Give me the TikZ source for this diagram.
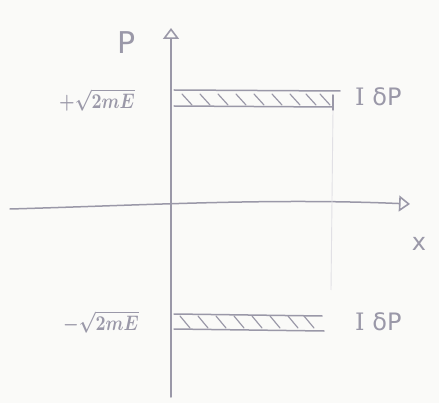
\documentclass[tikz,border=0pt]{standalone}
\usepackage{fontspec}
\usepackage{graphicx}
\setmainfont{DejaVu Sans}
\newfontfamily\serifI{DejaVu Serif}
\usetikzlibrary{arrows.meta}
\definecolor{pencil}{HTML}{9A98A8}
\definecolor{paper}{HTML}{FAFAF8}
\begin{document}
\begin{tikzpicture}[x=1pt,y=-1pt,
  pen/.style={draw=pencil,line width=1.5pt,line cap=round,line join=round},
  faint/.style={draw=pencil!30,line width=0.9pt},
  lbl/.style={text=pencil,inner sep=0pt},
  ax/.style={pen,-{Triangle[open,length=11pt,width=16pt,line width=1.6pt]}}]
\fill[paper] (0,0) rectangle (439,403);
\useasboundingbox (0,0) rectangle (439,403);
% axes
\coordinate (ybot) at (171,397);
\coordinate (ytop) at (171,28);
\coordinate (xl) at (10,209);
\coordinate (xr) at (410,204);
\draw[ax] (ybot) -- (ytop);
\draw[ax] (xl) .. controls (150,205) and (270,198) .. (xr);
\node[lbl,font=\fontsize{30}{30}\selectfont] (plab) at (127,43) {P};
\node[lbl,font=\fontsize{24}{24}\selectfont] (xlab) at (419,244) {x};
% faint guide
\draw[faint] (333,110) -- (331,290);
% top strip
\draw[pen] (174,90) -- (340,91);
\draw[pen] (174,106) -- (333,107);
\draw[pen] (333,95) -- (333,110);
\foreach \x in {182,200,218,236,254,272,290,306,320}
  \draw[pen,line width=1.2pt] (\x,94) -- (\x+10,105);
% bottom strip
\draw[pen] (174,314) -- (322,316);
\draw[pen] (174,329) -- (324,331);
\foreach \x in {180,198,216,234,252,270,288,304}
  \draw[pen,line width=1.2pt] (\x,316) -- (\x+10,328);
% labels
\node[lbl] (ptop) at (97,100) {\scalebox{1.75}[2.1]{\boldmath$+\sqrt{2mE}$}};
\node[lbl] (pbot) at (101,322) {\scalebox{1.75}[2.1]{\boldmath$-\sqrt{2mE}$}};
\node[lbl,font=\fontsize{24}{24}\selectfont,anchor=west] (dtop) at (355,97) {{\serifI I} δP};
\node[lbl,font=\fontsize{24}{24}\selectfont,anchor=west] (dbot) at (355,322) {{\serifI I} δP};
\end{tikzpicture}
\end{document}
